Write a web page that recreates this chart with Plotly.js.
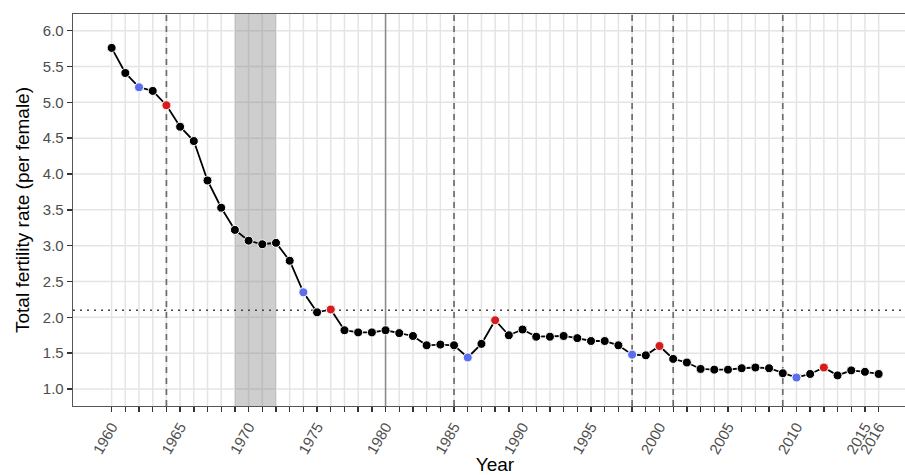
<!DOCTYPE html>
<html>
<head>
<meta charset="utf-8">
<script src="https://cdn.plot.ly/plotly-3.0.1.min.js"></script>
<style>
html,body{margin:0;padding:0;overflow:hidden;background:#fff;}
#chart{width:918px;height:475px;}
</style>
</head>
<body>
<div id="chart"></div>
<script>
// Data
const years = [1960,1961,1962,1963,1964,1965,1966,1967,1968,1969,
  1970,1971,1972,1973,1974,1975,1976,1977,1978,1979,
  1980,1981,1982,1983,1984,1985,1986,1987,1988,1989,
  1990,1991,1992,1993,1994,1995,1996,1997,1998,1999,
  2000,2001,2002,2003,2004,2005,2006,2007,2008,2009,
  2010,2011,2012,2013,2014,2015,2016];
const fertility = [5.76,5.41,5.21,5.16,4.96,4.66,4.46,3.91,3.53,3.22,
  3.07,3.02,3.04,2.79,2.35,2.07,2.11,1.82,1.79,1.79,
  1.82,1.78,1.74,1.61,1.62,1.61,1.44,1.63,1.96,1.75,
  1.83,1.73,1.73,1.74,1.71,1.67,1.67,1.61,1.48,1.47,
  1.60,1.42,1.37,1.28,1.27,1.27,1.29,1.30,1.29,1.22,
  1.16,1.21,1.30,1.19,1.26,1.24,1.21];
const blueYears = [1962,1974,1986,1998,2010];
const redYears = [1964,1976,1988,2000,2012];
const dashedYears = [1964,1985,1998,2001,2009];
const solidYears = [1980];
const shadedSpan = [1969,1972];
const replacementLevel = 2.1;
const labelledYears = [1960,1965,1970,1975,1980,1985,1990,1995,2000,2005,2010,2015,2016];
const yTicks = [1.0,1.5,2.0,2.5,3.0,3.5,4.0,4.5,5.0,5.5,6.0];

const valueOf = y => fertility[years.indexOf(y)];
const tickText = years.map(y => labelledYears.includes(y) ? String(y) : '');

const traces = [
  {x: years, y: fertility, type: 'scatter', mode: 'lines+markers',
   line: {color: '#000', width: 1.8},
   marker: {color: '#000', size: 9, line: {color: '#fff', width: 1}},
   hoverinfo: 'x+y', showlegend: false},
  {x: blueYears, y: blueYears.map(valueOf), type: 'scatter', mode: 'markers',
   marker: {color: '#5b6ef0', size: 9, line: {color: '#fff', width: 1}},
   showlegend: false},
  {x: redYears, y: redYears.map(valueOf), type: 'scatter', mode: 'markers',
   marker: {color: '#d81c1c', size: 9, line: {color: '#fff', width: 1}},
   showlegend: false}
];

const gridColor = '#e4e4e4';
const shapes = [];
// grid drawn as shapes so that reference lines sit above it
years.forEach(y => shapes.push({type: 'line', xref: 'x', yref: 'paper', x0: y, x1: y, y0: 0, y1: 1,
  line: {color: gridColor, width: 1.5}, layer: 'below'}));
yTicks.forEach(v => shapes.push({type: 'line', xref: 'paper', yref: 'y', x0: 0, x1: 1, y0: v, y1: v,
  line: {color: gridColor, width: 1.5}, layer: 'below'}));
shapes.push({type: 'rect', xref: 'x', yref: 'paper', x0: shadedSpan[0], x1: shadedSpan[1], y0: 0, y1: 1,
  fillcolor: 'rgba(120,120,120,0.36)', line: {width: 0}, layer: 'below'});
solidYears.forEach(y => shapes.push({type: 'line', xref: 'x', yref: 'paper', x0: y, x1: y, y0: 0, y1: 1,
  line: {color: '#8a8a8a', width: 1.5}, layer: 'below'}));
dashedYears.forEach(y => shapes.push({type: 'line', xref: 'x', yref: 'paper', x0: y, x1: y, y0: 0, y1: 1,
  line: {color: '#6e6e6e', width: 1.7, dash: '6px,5px'}, layer: 'below'}));
shapes.push({type: 'line', xref: 'paper', yref: 'y', x0: 0, x1: 1, y0: replacementLevel, y1: replacementLevel,
  line: {color: '#444', width: 1.4, dash: '2px,5px'}, layer: 'below'});

const layout = {
  width: 918, height: 475,
  margin: {l: 73, r: 1, t: 14, b: 69},
  paper_bgcolor: '#fff', plot_bgcolor: '#fff',
  font: {family: 'Liberation Sans, Arial, Helvetica, sans-serif'},
  xaxis: {
    range: [1957.18, 2018.8],
    tickmode: 'array', tickvals: years, ticktext: tickText,
    tickangle: -60,
    tickfont: {size: 15, color: '#4d4d4d'},
    ticks: 'outside', ticklen: 5, tickwidth: 1.4, tickcolor: '#333',
    showgrid: false,
    showline: true, linecolor: '#555', linewidth: 1.3, mirror: true,
    zeroline: false,
    title: {text: 'Year', font: {size: 19, color: '#000'}, standoff: 4}
  },
  yaxis: {
    range: [0.763, 6.233],
    tickmode: 'array', tickvals: yTicks, ticktext: yTicks.map(v => v.toFixed(1)),
    tickfont: {size: 15, color: '#4d4d4d'},
    ticks: 'outside', ticklen: 5, tickwidth: 1.4, tickcolor: '#333',
    showgrid: false,
    showline: true, linecolor: '#555', linewidth: 1.3, mirror: true,
    zeroline: false,
    title: {text: 'Total fertility rate (per female)', font: {size: 19, color: '#000'}, standoff: 8}
  },
  shapes: shapes,
  showlegend: false
};

Plotly.newPlot('chart', traces, layout, {displayModeBar: false, staticPlot: true});
</script>
</body>
</html>
